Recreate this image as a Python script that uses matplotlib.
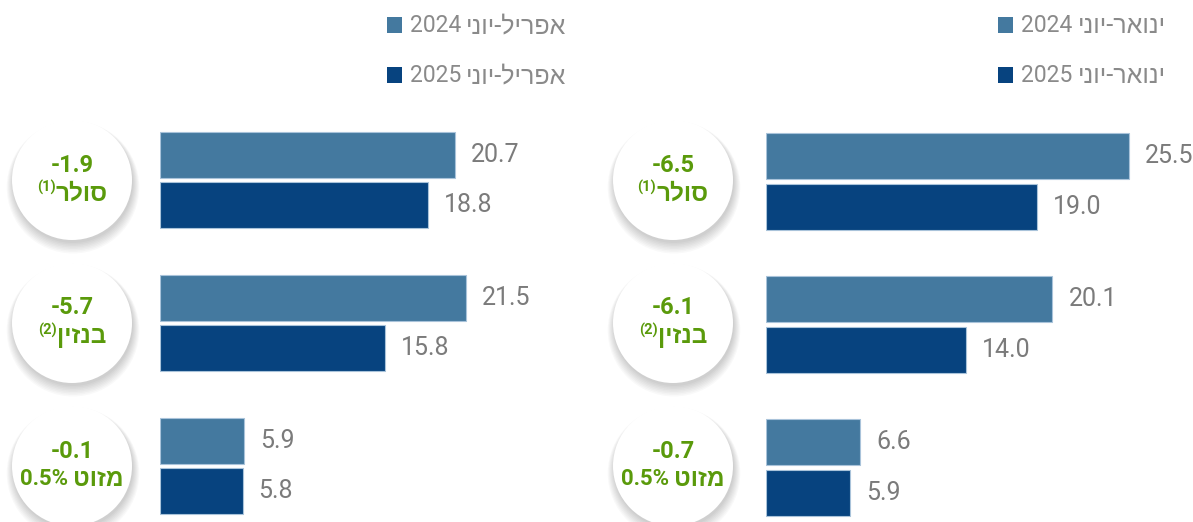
import matplotlib
matplotlib.use("Agg")
import matplotlib.pyplot as plt
from matplotlib.patches import Circle, Rectangle

plt.rcParams['font.family'] = ['Roboto', 'Liberation Sans', 'DejaVu Sans']

# data
fuels = ['סולר', 'בנזין', 'מזוט 0.5%']
notes = ['(1)', '(2)', '']
left_2024 = [20.7, 21.5, 5.9]
left_2025 = [18.8, 15.8, 5.8]
right_2024 = [25.5, 20.1, 6.6]
right_2025 = [19.0, 14.0, 5.9]
left_labels = ['אפריל-יוני 2024', 'אפריל-יוני 2025']
right_labels = ['ינואר-יוני 2024', 'ינואר-יוני 2025']

c24 = '#44799f'
c25 = '#07437f'
green = '#5a9a0b'
grey = '#7b7b7b'

W, H = 1193, 522
fig = plt.figure(figsize=(W / 100, H / 100), dpi=100)

px_per_unit = 14.25
row_px = 143


def bar_panel(x0, dy, v24, v25):
    top, bottom = 100 + dy, 522 + dy
    ax = fig.add_axes([x0 / W, 1 - bottom / H, 420 / W, (bottom - top) / H])
    ax.set_xlim(0, 420 / px_per_unit)
    ax.set_ylim((bottom - 180 - dy) / row_px, -80 / row_px)
    ys = list(range(len(v24)))
    y24 = [y - 0.178 for y in ys]
    y25 = [y + 0.178 for y in ys]
    ax.barh(y24, v24, height=0.322, color=c24, edgecolor='#a9c3da', linewidth=0.8)
    ax.barh(y25, v25, height=0.322, color=c25, edgecolor='#a9c3da', linewidth=0.8)
    for y, v in list(zip(y24, v24)) + list(zip(y25, v25)):
        ax.annotate(f'{v:.1f}', (v, y), xytext=(16, 0), textcoords='offset pixels',
                    va='center', ha='left', fontsize=18, color=grey)
    ax.axis('off')
    return ax


bar_panel(160, 0, left_2024, left_2025)
bar_panel(766, 1.5, right_2024, right_2025)

ov = fig.add_axes([0, 0, 1, 1])
ov.set_xlim(0, W)
ov.set_ylim(H, 0)
ov.axis('off')
ov.patch.set_alpha(0)

renderer = fig.canvas.get_renderer()


def run(x, y, parts, center=True, **kw):
    # parts: (text, fontsize, dy, gap) drawn left to right (no bidi in matplotlib)
    texts, widths = [], []
    for s, size, dy, gap in parts:
        t = ov.text(0, y + dy, s, ha='left', va='center', fontsize=size, **kw)
        texts.append(t)
        widths.append(t.get_window_extent(renderer).width + gap)
    total = sum(widths) - parts[-1][3]
    cur = x - total / 2 if center else x
    for t, w in zip(texts, widths):
        t.set_x(cur)
        cur += w


def circles(cx, v24, v25):
    for i, fuel in enumerate(fuels):
        cy = 180 + row_px * i
        # soft shadow
        for k in range(8):
            ov.add_patch(Circle((cx + 1, cy + 3 + k * 0.6), 60 + k * 0.9,
                                color='black', alpha=0.025, lw=0))
        ov.add_patch(Circle((cx, cy), 60, color='white', lw=0))
        d = v25[i] - v24[i]
        ov.text(cx, cy - 15, f'{d:.1f}', ha='center', va='center',
                fontsize=17, fontweight='bold', color=green)
        words = fuel.split(' ')
        parts = []
        if notes[i]:
            parts.append((notes[i], 10.5, -6, 0))
        if len(words) > 1:
            parts.append((words[1], 16, 0, 5))
        parts.append((words[0][::-1], 17.5, 1, 0))
        run(cx, cy + 13, parts, fontweight='bold', color=green)


circles(72, left_2024, left_2025)
circles(673, right_2024, right_2025)


def legend(x, labels):
    for (y, col), lab in zip([(25, c24), (75, c25)], labels):
        ov.add_patch(Rectangle((x, y - 8), 15, 16, color=col, lw=0))
        heb, num = lab.rsplit(' ', 1)
        run(x + 23, y, [(num, 16.5, 0, 5), (heb[::-1], 18, 1, 0)],
            center=False, color='#8a8a8a')


legend(387, left_labels)
legend(998, right_labels)

fig.savefig('out.png', dpi=100)
